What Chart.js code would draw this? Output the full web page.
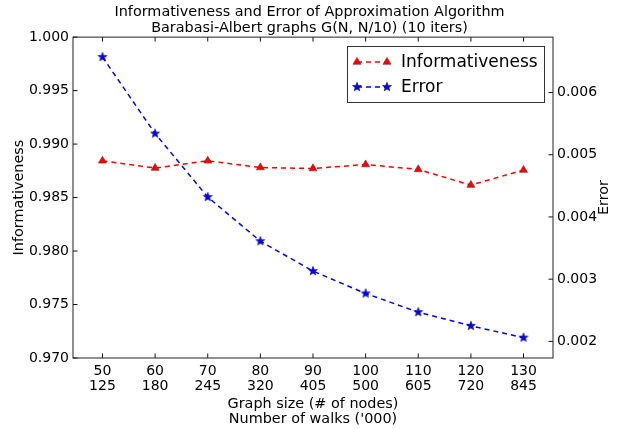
<!DOCTYPE html>
<html>
<head>
<meta charset="utf-8">
<script src="https://cdn.jsdelivr.net/npm/chart.js@4/dist/chart.umd.min.js"></script>
<style>
  html, body { margin: 0; padding: 0; background: #fff; }
  #wrap { width: 619px; height: 429px; }
</style>
</head>
<body>
<div id="wrap"><canvas id="c" width="619" height="429"></canvas></div>
<script>
// ---- data ----
const graphSizes = [50, 60, 70, 80, 90, 100, 110, 120, 130];
const walksThousands = [125, 180, 245, 320, 405, 500, 605, 720, 845];
const informativeness = [0.98844, 0.98776, 0.98844, 0.98781, 0.98772, 0.98809, 0.98763, 0.98617, 0.98757];
const errorValues = [0.00657, 0.00534, 0.00432, 0.00361, 0.00313, 0.00277, 0.00247, 0.00225, 0.00206];
const leftTicks = [0.970, 0.975, 0.980, 0.985, 0.990, 0.995, 1.000];
const rightTicks = [0.002, 0.003, 0.004, 0.005, 0.006];

const FONT = "'DejaVu Sans', sans-serif";
const LABEL_SIZE = 14.4;
const TICK_SIZE = 14;

function makeStar(fill, stroke, R, r) {
  const size = Math.ceil(2 * R + 2);
  const c = document.createElement('canvas');
  c.width = size; c.height = size;
  const g = c.getContext('2d');
  g.beginPath();
  for (let i = 0; i < 10; i++) {
    const a = -Math.PI / 2 + i * Math.PI / 5;
    const rad = (i % 2) ? r : R;
    g.lineTo(size / 2 + rad * Math.cos(a), size / 2 + rad * Math.sin(a));
  }
  g.closePath();
  g.fillStyle = fill; g.fill();
  g.lineWidth = 0.6; g.strokeStyle = stroke; g.stroke();
  return c;
}
const starImg = makeStar('#0000ff', '#000060', 4.7, 2.0);

const infoPts = graphSizes.map((x, i) => ({ x: x, y: informativeness[i] }));
const errPts = graphSizes.map((x, i) => ({ x: x, y: errorValues[i] }));

const frameTicks = {
  id: 'frameTicks',
  afterDatasetsDraw(chart) {
    const ctx = chart.ctx, a = chart.chartArea;
    const xs = chart.scales.x, ys = chart.scales.y, y1 = chart.scales.y1;
    ctx.save();
    ctx.strokeStyle = '#111';
    ctx.lineWidth = 1;
    const L = 4.5;
    ctx.beginPath();
    xs.ticks.forEach(t => {
      const p = xs.getPixelForValue(t.value);
      ctx.moveTo(p, a.bottom); ctx.lineTo(p, a.bottom - L);
      ctx.moveTo(p, a.top); ctx.lineTo(p, a.top + L);
    });
    ys.ticks.forEach(t => {
      const p = ys.getPixelForValue(t.value);
      ctx.moveTo(a.left, p); ctx.lineTo(a.left + L, p);
    });
    y1.ticks.forEach(t => {
      const p = y1.getPixelForValue(t.value);
      ctx.moveTo(a.right, p); ctx.lineTo(a.right - L, p);
    });
    ctx.stroke();
    ctx.strokeStyle = '#222';
    ctx.strokeRect(a.left, a.top, a.right - a.left, a.bottom - a.top);
    // right axis title, reading bottom-to-top like the left one
    const t = y1.options.title;
    ctx.fillStyle = '#000';
    ctx.font = LABEL_SIZE + 'px ' + FONT;
    ctx.textAlign = 'center';
    ctx.textBaseline = 'middle';
    ctx.translate(604.5, (a.top + a.bottom) / 2);
    ctx.rotate(-Math.PI / 2);
    ctx.fillText(t.text, 0, 0);
    ctx.restore();
  }
};

const boxLegend = {
  id: 'boxLegend',
  afterDraw(chart) {
    const ctx = chart.ctx;
    const x0 = 347.5, y0 = 46.5, w = 197, h = 56;
    ctx.save();
    ctx.fillStyle = '#fff';
    ctx.fillRect(x0, y0, w, h);
    ctx.strokeStyle = '#333';
    ctx.lineWidth = 1;
    ctx.strokeRect(x0, y0, w, h);
    const rows = [
      { ds: chart.data.datasets[1], y: 62 },
      { ds: chart.data.datasets[0], y: 87 }
    ];
    rows.forEach(r => {
      const ds = r.ds;
      ctx.strokeStyle = ds.borderColor;
      ctx.lineWidth = ds.borderWidth;
      ctx.setLineDash(ds.borderDash);
      ctx.beginPath();
      ctx.moveTo(357, r.y); ctx.lineTo(387, r.y);
      ctx.stroke();
      ctx.setLineDash([]);
      [357, 387].forEach(px => {
        ctx.fillStyle = ds.pointBackgroundColor;
        ctx.strokeStyle = ds.pointBorderColor;
        ctx.lineWidth = ds.pointBorderWidth;
        Chart.helpers.drawPoint(ctx, {
          pointStyle: ds.pointStyle, radius: ds.pointRadius, rotation: 0,
          borderWidth: ds.pointBorderWidth
        }, px, r.y);
      });
      ctx.fillStyle = '#000';
      ctx.font = '17px ' + FONT;
      ctx.textAlign = 'left';
      ctx.textBaseline = 'middle';
      ctx.fillText(ds.label, 401, r.y + 1);
    });
    ctx.restore();
  }
};

new Chart(document.getElementById('c'), {
  type: 'line',
  data: {
    datasets: [
      {
        label: 'Error',
        data: errPts,
        yAxisID: 'y1',
        order: 0,
        borderColor: '#0000ff',
        borderWidth: 1.5,
        borderDash: [5, 4],
        pointStyle: starImg,
        pointRadius: 5,
        pointBorderWidth: 0.6,
        pointBackgroundColor: '#0000ff',
        pointBorderColor: '#000060',
        fill: false,
        tension: 0
      },
      {
        label: 'Informativeness',
        data: infoPts,
        yAxisID: 'y',
        order: 1,
        borderColor: '#ff0000',
        borderWidth: 1.5,
        borderDash: [5, 4],
        pointStyle: 'triangle',
        pointRadius: 4.6,
        pointBorderWidth: 0.6,
        pointBackgroundColor: '#ff0000',
        pointBorderColor: '#802020',
        fill: false,
        tension: 0
      }
    ]
  },
  options: {
    responsive: false,
    animation: false,
    events: [],
    layout: { padding: 0 },
    plugins: {
      legend: { display: false },
      tooltip: { enabled: false },
      title: {
        display: true,
        text: ['Informativeness and Error of Approximation Algorithm', 'Barabasi-Albert graphs G(N, N/10) (10 iters)'],
        color: '#000',
        font: { family: FONT, size: LABEL_SIZE, weight: 'normal', lineHeight: 1.15 },
        padding: { top: 3.7, bottom: 0.3 }
      }
    },
    scales: {
      x: {
        type: 'linear',
        min: 44.4,
        max: 135.6,
        grid: { display: false, drawTicks: false },
        border: { display: false },
        afterBuildTicks: s => { s.ticks = graphSizes.map(v => ({ value: v })); },
        afterFit: s => { s.height = 71; },
        ticks: {
          color: '#000',
          padding: 6,
          maxRotation: 0,
          autoSkip: false,
          font: { family: FONT, size: TICK_SIZE, lineHeight: 1.07 },
          callback: v => [String(v), String(walksThousands[graphSizes.indexOf(v)])]
        },
        title: {
          display: true,
          text: ['Graph size (# of nodes)', "Number of walks ('000)"],
          color: '#000',
          font: { family: FONT, size: LABEL_SIZE, lineHeight: 1.04 },
          padding: { top: 0, bottom: 2.5 }
        }
      },
      y: {
        position: 'left',
        min: 0.970,
        max: 1.000,
        grid: { display: false, drawTicks: false },
        border: { display: false },
        afterBuildTicks: s => { s.ticks = leftTicks.map(v => ({ value: v })); },
        afterFit: s => { s.width = 73; },
        ticks: {
          color: '#000',
          padding: 4,
          font: { family: FONT, size: TICK_SIZE },
          callback: v => v.toFixed(3)
        },
        title: {
          display: true,
          text: 'Informativeness',
          color: '#000',
          font: { family: FONT, size: LABEL_SIZE },
          padding: { top: 11, bottom: 0 }
        }
      },
      y1: {
        position: 'right',
        min: 0.001733,
        max: 0.00689,
        grid: { display: false, drawTicks: false },
        border: { display: false },
        afterBuildTicks: s => { s.ticks = rightTicks.map(v => ({ value: v })); },
        afterFit: s => { s.width = 66; },
        ticks: {
          color: '#000',
          padding: 4,
          font: { family: FONT, size: TICK_SIZE },
          callback: v => v.toFixed(3)
        },
        title: {
          display: false,
          text: 'Error'
        }
      }
    }
  },
  plugins: [frameTicks, boxLegend]
});
</script>
</body>
</html>
